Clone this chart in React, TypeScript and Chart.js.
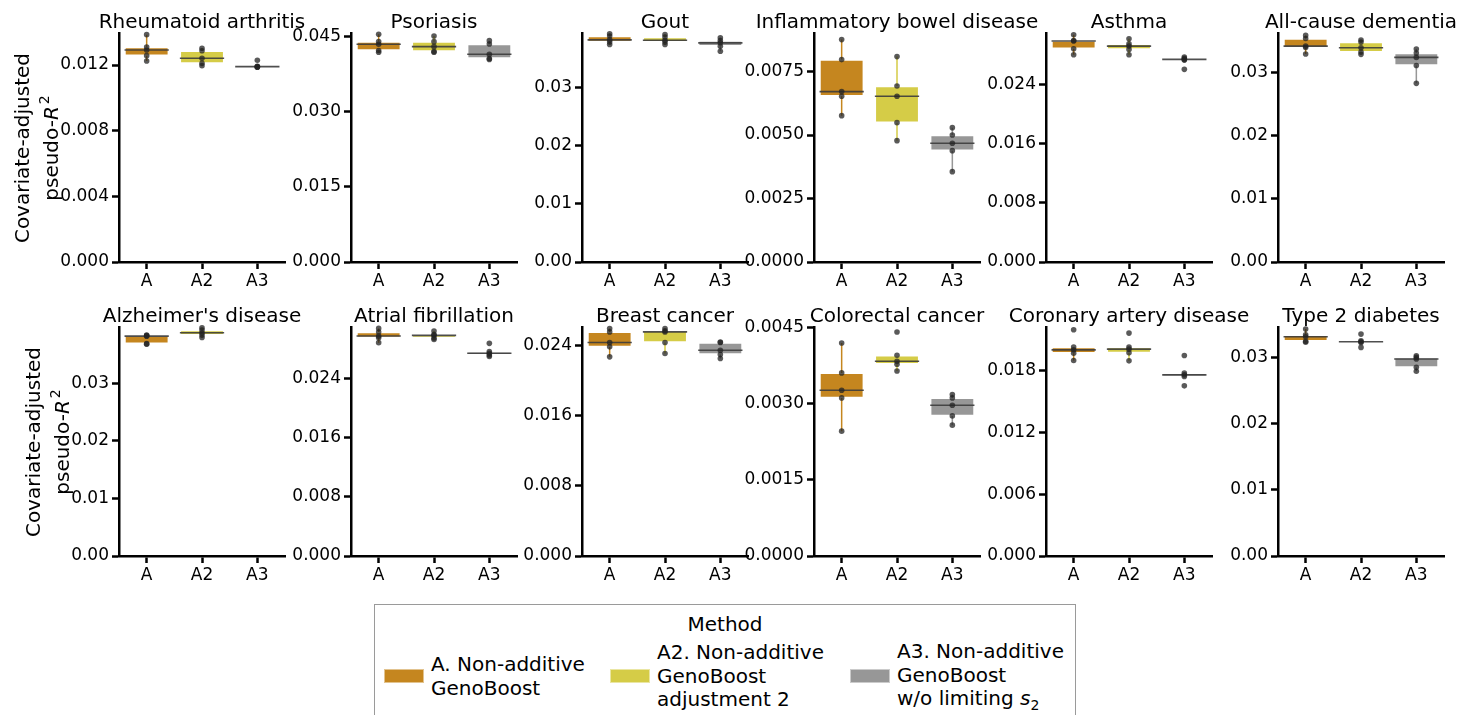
import React, { useEffect, useRef } from 'react';
import { Chart, registerables } from 'chart.js';

Chart.register(...registerables);

const FONT = '"DejaVu Sans", Verdana, sans-serif';

// ---------- data ----------
const METHODS = ['A', 'A2', 'A3'];
const METHOD_COLORS = ['#c5861f', '#d5cc47', '#979797'];
const LEGEND_TITLE = 'Method';
const LEGEND_LINES = [
  ['A. Non-additive', 'GenoBoost'],
  ['A2. Non-additive', 'GenoBoost', 'adjustment 2'],
  ['A3. Non-additive', 'GenoBoost', 'w/o limiting s_2'],
];
const Y_LABEL_LINE1 = 'Covariate-adjusted';
const Y_LABEL_LINE2 = 'pseudo-';

const DISEASES = [
  'Rheumatoid arthritis',
  'Psoriasis',
  'Gout',
  'Inflammatory bowel disease',
  'Asthma',
  'All-cause dementia',
  "Alzheimer's disease",
  'Atrial fibrillation',
  'Breast cancer',
  'Colorectal cancer',
  'Coronary artery disease',
  'Type 2 diabetes',
];

// per-fold pseudo-R2 values: [A, A2, A3]
const RHEUMATOID_ARTHRITIS = [
  [0.01385, 0.0131, 0.01291, 0.01257, 0.01224],
  [0.01302, 0.01287, 0.01241, 0.0121, 0.01196],
  [0.01229, 0.01192, 0.0119, 0.01188, 0.01186],
];
const PSORIASIS = [
  [0.04554, 0.0441, 0.04354, 0.0423, 0.04194],
  [0.0452, 0.04406, 0.04306, 0.0421, 0.04194],
  [0.04426, 0.0436, 0.04154, 0.0407, 0.0405],
];
const GOUT = [
  [0.03932, 0.03894, 0.03829, 0.03794, 0.03748],
  [0.0392, 0.03877, 0.03822, 0.0379, 0.03748],
  [0.03863, 0.03817, 0.03777, 0.03718, 0.03632],
];
const IBD = [
  [0.008761, 0.007973, 0.006712, 0.00653, 0.005766],
  [0.008091, 0.006936, 0.00653, 0.00549, 0.00478],
  [0.005293, 0.005005, 0.004678, 0.004386, 0.003559],
];
const ASTHMA = [
  [0.03079, 0.03001, 0.02995, 0.02889, 0.02808],
  [0.03024, 0.02957, 0.02925, 0.0288, 0.02808],
  [0.02776, 0.02758, 0.02745, 0.02735, 0.0261],
];
const ALL_CAUSE_DEMENTIA = [
  [0.03585, 0.03535, 0.03416, 0.03392, 0.0329],
  [0.03511, 0.03479, 0.03389, 0.03321, 0.03285],
  [0.03369, 0.03305, 0.03237, 0.03108, 0.02826],
];
const ALZHEIMERS = [
  [0.03839, 0.0383, 0.03821, 0.03691, 0.03682],
  [0.03966, 0.03926, 0.03879, 0.03839, 0.03799],
  [],
];
const ATRIAL_FIBRILLATION = [
  [0.03078, 0.03029, 0.02975, 0.02952, 0.02885],
  [0.03042, 0.02995, 0.02984, 0.02948, 0.02928],
  [0.02876, 0.02766, 0.02742, 0.02719, 0.02699],
];
const BREAST_CANCER = [
  [0.0259, 0.02551, 0.02431, 0.02381, 0.02267],
  [0.0259, 0.02563, 0.02551, 0.02431, 0.02305],
  [0.02437, 0.02431, 0.02343, 0.02294, 0.02249],
];
const COLORECTAL_CANCER = [
  [0.004204, 0.003613, 0.003272, 0.00312, 0.002464],
  [0.004421, 0.003962, 0.003843, 0.003784, 0.003652],
  [0.003187, 0.00312, 0.002976, 0.002765, 0.002582],
];
const CORONARY_ARTERY_DISEASE = [
  [0.02199, 0.02031, 0.02004, 0.01972, 0.019],
  [0.02167, 0.02031, 0.02011, 0.01975, 0.01897],
  [0.01949, 0.01778, 0.01761, 0.01745, 0.01654],
];
const TYPE_2_DIABETES = [
  [0.03424, 0.03339, 0.03309, 0.03241, 0.03226],
  [0.03349, 0.03249, 0.03234, 0.03223, 0.03148],
  [0.03023, 0.02997, 0.02973, 0.02847, 0.02787],
];

const PANEL_VALUES = [
  RHEUMATOID_ARTHRITIS, PSORIASIS, GOUT, IBD, ASTHMA, ALL_CAUSE_DEMENTIA,
  ALZHEIMERS, ATRIAL_FIBRILLATION, BREAST_CANCER, COLORECTAL_CANCER, CORONARY_ARTERY_DISEASE, TYPE_2_DIABETES,
];

const Y_TICK_LABELS = [
  ['0.000', '0.004', '0.008', '0.012'],
  ['0.000', '0.015', '0.030', '0.045'],
  ['0.00', '0.01', '0.02', '0.03'],
  ['0.0000', '0.0025', '0.0050', '0.0075'],
  ['0.000', '0.008', '0.016', '0.024'],
  ['0.00', '0.01', '0.02', '0.03'],
  ['0.00', '0.01', '0.02', '0.03'],
  ['0.000', '0.008', '0.016', '0.024'],
  ['0.000', '0.008', '0.016', '0.024'],
  ['0.0000', '0.0015', '0.0030', '0.0045'],
  ['0.000', '0.006', '0.012', '0.018'],
  ['0.00', '0.01', '0.02', '0.03'],
];

// ---------- layout ----------
const PLOT_LEFTS = [119, 351, 582, 814, 1046, 1278];
const PLOT_TOPS = [33, 327];
const PLOT_W = 166;
const PLOT_H = 229;
const Y_AXIS_W = 75;
const X_AXIS_H = 40;
const PAD_TOP = 33;
const CANVAS_W = Y_AXIS_W + PLOT_W + Y_AXIS_W;
const CANVAS_H = PAD_TOP + PLOT_H + X_AXIS_H;

// ---------- helpers ----------
function quantile(sorted: number[], p: number) {
  const pos = (sorted.length - 1) * p;
  const lo = Math.floor(pos);
  const hi = Math.ceil(pos);
  return sorted[lo] + (sorted[hi] - sorted[lo]) * (pos - lo);
}

function boxStats(vals: number[]) {
  if (!vals.length) return null;
  const s = [...vals].sort((a, b) => a - b);
  const q1 = quantile(s, 0.25);
  const med = quantile(s, 0.5);
  const q3 = quantile(s, 0.75);
  const iqr = q3 - q1;
  const inside = s.filter((v) => v >= q1 - 1.5 * iqr && v <= q3 + 1.5 * iqr);
  return { q1, med, q3, lo: Math.min(...inside), hi: Math.max(...inside) };
}

function makeExtras(title: string, stats: any[]) {
  return {
    id: 'boxExtras',
    afterDatasetDraw(chart: any, args: any) {
      if (args.index !== 0) return;
      const ctx = chart.ctx;
      const y = chart.scales.y;
      const meta = chart.getDatasetMeta(0);
      stats.forEach((s: any, i: number) => {
        if (!s) return;
        const bar = meta.data[i];
        const cx = bar.x;
        const half = bar.width / 2;
        ctx.save();
        ctx.strokeStyle = METHOD_COLORS[i];
        ctx.lineWidth = 1.5;
        ctx.beginPath();
        ctx.moveTo(cx, y.getPixelForValue(s.q3));
        ctx.lineTo(cx, y.getPixelForValue(s.hi));
        ctx.moveTo(cx, y.getPixelForValue(s.q1));
        ctx.lineTo(cx, y.getPixelForValue(s.lo));
        ctx.stroke();
        ctx.strokeStyle = 'rgba(60,60,60,0.9)';
        ctx.lineWidth = 1.6;
        const my = y.getPixelForValue(s.med);
        ctx.beginPath();
        ctx.moveTo(cx - half, my);
        ctx.lineTo(cx + half, my);
        ctx.stroke();
        ctx.restore();
      });
    },
    afterDraw(chart: any) {
      const { ctx, chartArea } = chart;
      ctx.save();
      ctx.font = `20px ${FONT}`;
      ctx.fillStyle = '#000';
      ctx.textAlign = 'center';
      ctx.textBaseline = 'alphabetic';
      ctx.fillText(title, (chartArea.left + chartArea.right) / 2, chartArea.top - 5.5);
      ctx.restore();
    },
  };
}

function Panel({ index }: { index: number }) {
  const ref = useRef<HTMLCanvasElement | null>(null);
  useEffect(() => {
    const values = PANEL_VALUES[index];
    const stats = values.map((v) => boxStats(v));
    const all = values.flat();
    const vmax = Math.max(...all);
    const vmin = Math.min(...all);
    const yMax = vmax + 0.05 * (vmax - vmin);
    const tickLabels = Y_TICK_LABELS[index];
    const tickValues = tickLabels.map((t) => parseFloat(t));
    const points: any[] = [];
    values.forEach((arr, i) => arr.forEach((v) => points.push({ x: METHODS[i], y: v })));

    const chart = new Chart(ref.current as HTMLCanvasElement, {
      type: 'bar',
      data: {
        labels: METHODS,
        datasets: [
          {
            type: 'bar',
            data: stats.map((s) => (s ? [s.q1, s.q3] : null)) as any,
            backgroundColor: METHOD_COLORS,
            borderColor: 'rgba(255,255,255,0.45)',
            borderWidth: 1.2,
            borderSkipped: false,
            barPercentage: 0.8,
            categoryPercentage: 1,
            order: 2,
          } as any,
          {
            type: 'scatter',
            data: points,
            pointRadius: 2.8,
            pointHoverRadius: 2.8,
            pointBackgroundColor: 'rgba(35,35,35,0.75)',
            pointBorderWidth: 0,
            order: 1,
            clip: false,
          } as any,
        ],
      },
      options: {
        responsive: false,
        animation: false,
        devicePixelRatio: 1,
        events: [],
        layout: { padding: { top: PAD_TOP, right: Y_AXIS_W, left: 0, bottom: 0 } },
        plugins: { legend: { display: false }, tooltip: { enabled: false }, title: { display: false } },
        scales: {
          x: {
            type: 'category',
            offset: true,
            afterFit: (s: any) => { s.height = X_AXIS_H; },
            ticks: { font: { family: FONT, size: 17 }, color: '#000', padding: 2, maxRotation: 0 },
            grid: { offset: false, drawOnChartArea: false, drawTicks: true, tickLength: 7, tickWidth: 2.5, tickColor: '#000' },
            border: { display: true, color: '#000', width: 2.5 },
          },
          y: {
            type: 'linear',
            min: 0,
            max: yMax,
            afterFit: (s: any) => { s.width = Y_AXIS_W; },
            afterBuildTicks: (s: any) => { s.ticks = tickValues.map((v) => ({ value: v })); },
            ticks: {
              font: { family: FONT, size: 17 },
              color: '#000',
              padding: 3,
              autoSkip: false,
              callback: (_v: any, i: number) => tickLabels[i],
            },
            grid: { drawOnChartArea: false, drawTicks: true, tickLength: 7, tickWidth: 2.5, tickColor: '#000' },
            border: { display: true, color: '#000', width: 2.5 },
          },
        },
      } as any,
      plugins: [makeExtras(DISEASES[index], stats)],
    });
    return () => chart.destroy();
  }, [index]);

  const row = Math.floor(index / 6);
  const col = index % 6;
  return (
    <canvas
      ref={ref}
      width={CANVAS_W}
      height={CANVAS_H}
      style={{
        position: 'absolute',
        left: PLOT_LEFTS[col] - Y_AXIS_W,
        top: PLOT_TOPS[row] - PAD_TOP,
        width: CANVAS_W,
        height: CANVAS_H,
      }}
    />
  );
}

function YLabel({ cx, cy }: { cx: number; cy: number }) {
  return (
    <div
      style={{
        position: 'absolute',
        left: cx - 140,
        top: cy - 29,
        width: 280,
        height: 58,
        transform: 'rotate(-90deg)',
        textAlign: 'center',
        fontFamily: FONT,
        fontSize: 20,
        lineHeight: '29px',
        color: '#000',
        whiteSpace: 'nowrap',
      }}
    >
      <div>{Y_LABEL_LINE1}</div>
      <div>
        {Y_LABEL_LINE2}
        <i>R</i>
        <span style={{ fontSize: 14, position: 'relative', top: -9, marginLeft: 2 }}>2</span>
      </div>
    </div>
  );
}

function renderLine(line: string) {
  if (line.endsWith('s_2')) {
    return (
      <>
        {line.slice(0, -3)}
        <i>s</i>
        <span style={{ fontSize: 14, position: 'relative', top: 5 }}>2</span>
      </>
    );
  }
  return line;
}

const LEGEND_PATCH_X = [9, 235, 475];
const LEGEND_TEXT_X = [56, 282, 522];

function Legend() {
  return (
    <div
      style={{
        position: 'absolute',
        left: 374,
        top: 604,
        width: 702,
        height: 140,
        border: '1px solid #9a9a9a',
        boxSizing: 'border-box',
        fontFamily: FONT,
        fontSize: 20,
        color: '#000',
        background: '#fff',
      }}
    >
      <div style={{ position: 'absolute', top: 7, left: 0, width: '100%', textAlign: 'center', lineHeight: '24px' }}>
        {LEGEND_TITLE}
      </div>
      {LEGEND_LINES.map((lines, i) => (
        <React.Fragment key={i}>
          <div
            style={{
              position: 'absolute',
              left: LEGEND_PATCH_X[i],
              top: 64,
              width: 40,
              height: 14,
              background: METHOD_COLORS[i],
              border: '1px solid rgba(255,255,255,0.5)',
              boxSizing: 'border-box',
            }}
          />
          <div
            style={{
              position: 'absolute',
              left: LEGEND_TEXT_X[i],
              top: 71,
              transform: 'translateY(-50%)',
              lineHeight: '23.5px',
              whiteSpace: 'nowrap',
            }}
          >
            {lines.map((l, j) => (
              <div key={j}>{renderLine(l)}</div>
            ))}
          </div>
        </React.Fragment>
      ))}
    </div>
  );
}

export default function App() {
  return (
    <div style={{ position: 'absolute', left: 0, top: 0, width: 1459, height: 715, overflow: 'hidden', background: '#fff' }}>
      {DISEASES.map((_, i) => (
        <Panel key={i} index={i} />
      ))}
      <YLabel cx={36.5} cy={147.5} />
      <YLabel cx={47.5} cy={441.5} />
      <Legend />
    </div>
  );
}
